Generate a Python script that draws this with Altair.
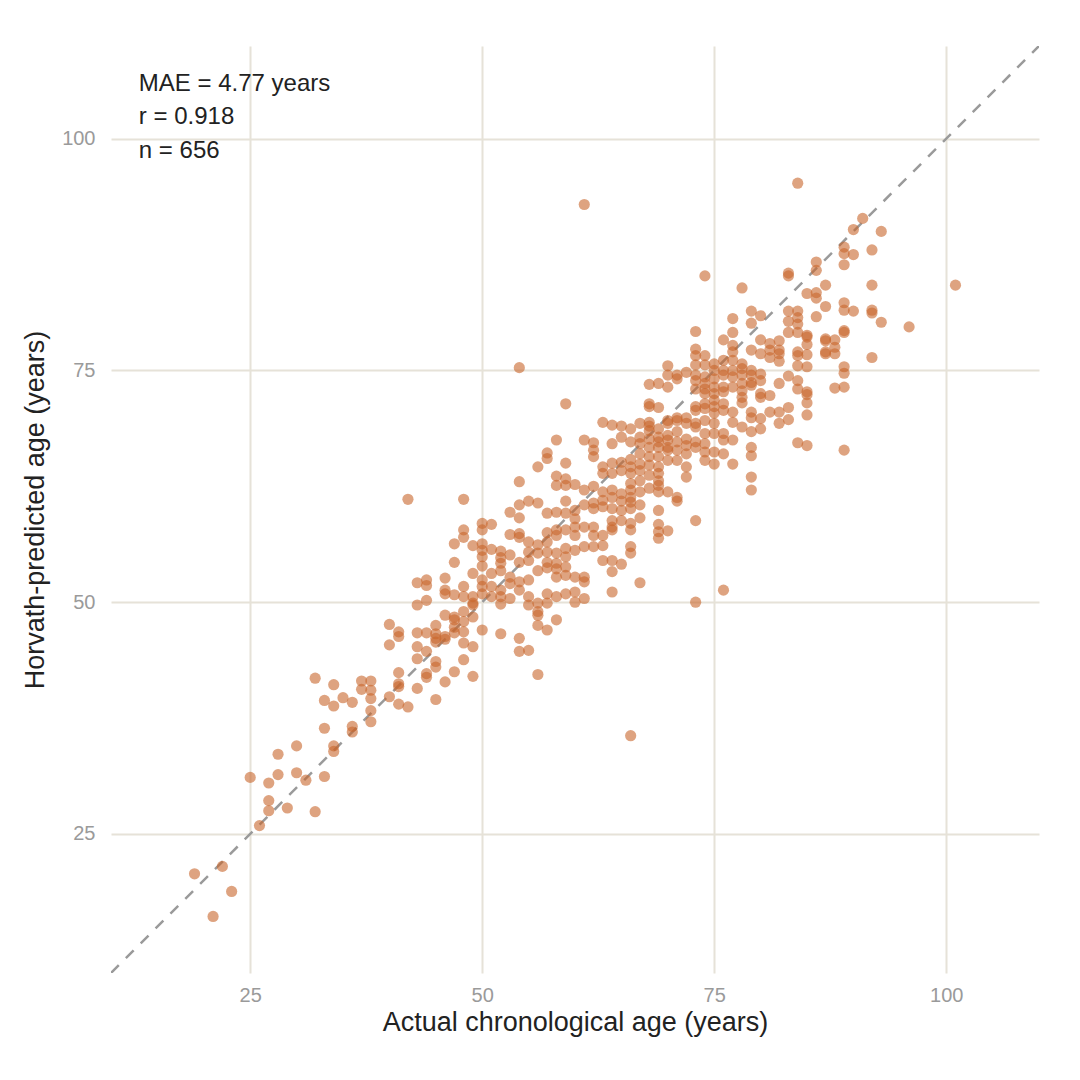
import altair as alt
import pandas as pd

# Actual chronological age (integer years) for each column of points
column_ages = [19, 21, 22, 23, 25, 26, 27, 28, 29, 30, 31, 32, 33, 34, 35, 36, 37, 38,
               40, 41, 42, 43, 44, 45, 46, 47, 48, 49, 50, 51, 52, 53, 54, 55, 56, 57,
               58, 59, 60, 61, 62, 63, 64, 65, 66, 67, 68, 69, 70, 71, 72, 73, 74, 75,
               76, 77, 78, 79, 80, 81, 82, 83, 84, 85, 86, 87, 88, 89, 90, 91, 92, 93,
               96, 101]

# Horvath-predicted ages read for each of those columns
column_predictions = [
    [20.7], [16.1], [21.5], [18.8], [31.1], [25.9], [30.5, 28.6, 27.5], [33.6, 31.4],
    [27.8], [34.5, 31.6], [30.8], [41.8, 27.4], [39.4, 36.4, 31.2],
    [41.1, 38.8, 34.5, 33.9], [39.7], [39.2, 36.6, 36.0], [41.5, 40.6],
    [41.5, 40.5, 39.6, 38.3, 37.1],
    [47.6, 45.4, 39.8],
    [46.8, 46.3, 42.4, 41.2, 40.9, 39.0],
    [61.1, 38.7],
    [52.1, 49.7, 46.7, 45.2, 43.9, 40.7],
    [52.4, 51.8, 50.2, 46.7, 44.7, 42.3, 41.9],
    [47.5, 46.6, 46.1, 45.7, 43.6, 43.0, 39.5],
    [52.6, 51.3, 50.9, 48.6, 46.3, 46.0, 41.4],
    [56.3, 54.3, 50.8, 48.4, 48.1, 47.3, 46.7, 42.5],
    [61.1, 57.8, 57.0, 51.7, 50.6, 49.0, 47.9, 46.8, 45.6, 43.8],
    [56.1, 53.1, 50.6, 49.9, 49.7, 48.4, 45.2, 42.0],
    [58.5, 57.8, 56.3, 55.6, 54.9, 53.9, 52.4, 51.7, 50.9, 47.0],
    [58.4, 55.7, 53.1, 51.7, 50.6],
    [55.5, 54.8, 54.2, 53.4, 51.3, 50.6, 49.8, 46.6],
    [59.7, 57.3, 55.1, 52.7, 52.0, 50.4],
    [75.3, 63.0, 60.5, 59.1, 57.4, 57.0, 54.3, 52.2, 51.3, 46.1, 44.7],
    [60.9, 56.5, 55.4, 54.5, 52.4, 50.6, 49.7, 44.8],
    [64.6, 60.7, 56.2, 55.3, 53.4, 49.9, 49.0, 48.6, 47.5, 42.2],
    [66.1, 65.5, 59.6, 57.5, 56.5, 55.4, 54.3, 53.7, 50.9, 49.9, 47.0],
    [67.5, 63.6, 62.6, 59.7, 57.8, 57.2, 55.3, 54.2, 53.6, 52.7, 50.6, 48.1],
    [71.4, 65.0, 63.3, 62.6, 60.9, 59.6, 57.8, 55.8, 54.9, 53.8, 52.9, 50.9],
    [62.7, 59.9, 59.0, 58.1, 57.2, 55.6, 52.7, 51.1, 50.0],
    [92.9, 67.5, 62.1, 60.5, 58.1, 56.0, 52.7, 52.2, 50.4],
    [67.2, 66.4, 65.7, 62.5, 60.7, 60.1, 58.1, 57.2, 56.0],
    [69.4, 64.6, 63.9, 61.9, 61.0, 60.3, 57.2, 56.1, 54.5],
    [69.1, 67.1, 65.0, 63.9, 62.1, 61.3, 60.1, 58.8, 58.1, 57.8, 54.5, 53.3, 51.1],
    [69.0, 67.8, 65.1, 64.2, 61.7, 60.9, 59.9, 58.8, 54.1],
    [68.7, 67.3, 65.4, 64.6, 63.9, 62.8, 62.1, 61.3, 60.8, 60.1, 58.5, 57.8, 56.0, 55.3, 35.6],
    [69.3, 67.8, 67.1, 66.0, 64.9, 64.2, 63.1, 61.9, 60.5, 59.1, 52.1],
    [73.5, 71.4, 71.1, 69.4, 69.0, 68.5, 67.6, 66.7, 65.7, 64.8, 63.7, 62.3],
    [73.6, 71.0, 68.7, 67.8, 67.3, 66.7, 65.7, 64.6, 63.9, 63.1, 62.6, 61.9, 59.9, 58.4, 57.6, 56.9],
    [75.5, 74.5, 73.2, 69.6, 69.3, 68.0, 67.5, 66.7, 66.4, 65.3, 61.9, 57.7],
    [74.5, 74.1, 69.9, 69.6, 68.4, 67.3, 66.4, 65.3, 61.3, 60.9],
    [74.8, 69.9, 69.3, 67.6, 66.9, 66.0, 64.6, 63.5],
    [79.2, 77.3, 76.6, 75.6, 74.5, 73.9, 73.0, 71.1, 70.7, 69.3, 68.9, 67.3, 66.7, 58.8, 50.0],
    [85.2, 76.6, 75.6, 74.3, 73.6, 73.0, 72.5, 71.4, 70.9, 69.6, 68.2, 67.1, 66.2, 65.3],
    [75.7, 75.0, 74.1, 73.2, 72.5, 71.8, 71.1, 70.4, 69.3, 68.2, 66.2, 64.9],
    [78.3, 76.1, 75.0, 74.5, 73.2, 72.7, 71.4, 70.7, 68.2, 67.5, 66.0, 51.3],
    [80.6, 79.1, 77.7, 77.0, 76.1, 75.0, 74.3, 73.2, 70.5, 69.4, 67.5, 64.9],
    [83.9, 75.7, 75.2, 74.5, 73.6, 72.8, 72.1, 71.5, 68.9],
    [81.4, 80.1, 77.2, 75.0, 74.5, 73.7, 73.4, 70.5, 69.9, 68.4, 66.7, 65.8, 63.5, 62.1],
    [80.9, 78.3, 76.8, 74.6, 73.9, 72.5, 72.1, 69.8, 68.7],
    [77.9, 77.2, 76.4, 72.3, 70.5],
    [78.2, 77.2, 76.8, 76.0, 73.6, 70.5, 69.3],
    [85.5, 85.2, 81.4, 80.3, 79.1, 74.4, 71.0, 69.7],
    [95.2, 81.4, 80.7, 80.0, 79.1, 77.0, 76.6, 75.5, 73.9, 73.0, 67.2],
    [83.3, 78.8, 78.6, 77.8, 76.7, 75.4, 72.7, 72.4, 71.5, 70.2, 66.9],
    [86.7, 85.8, 83.4, 82.8, 80.8],
    [84.2, 81.9, 78.4, 78.2, 77.0, 76.8],
    [78.3, 77.5, 76.8, 73.1],
    [88.3, 87.6, 86.4, 82.3, 81.5, 79.3, 79.1, 75.4, 74.7, 73.2, 66.4],
    [90.2, 87.5, 81.4],
    [91.4],
    [88.0, 84.2, 81.5, 81.2, 76.4],
    [90.0, 80.2],
    [79.7],
    [84.2],
]

# Identity reference line end points
identity_line = [10, 110]

# Stats annotation
stat_lines = ["MAE = 4.77 years", "r = 0.918", "n = 656"]
stat_x = 13.0
stat_y = [105.9, 102.3, 98.7]

axis_ticks = [25, 50, 75, 100]
domain = [10, 110]

actual, predicted = [], []
for age, preds in zip(column_ages, column_predictions):
    for p in preds:
        actual.append(age)
        predicted.append(p)

points_df = pd.DataFrame({"actual": actual, "predicted": predicted})
line_df = pd.DataFrame({"actual": identity_line, "predicted": identity_line})
text_df = pd.DataFrame({"actual": [stat_x] * 3, "predicted": stat_y, "label": stat_lines})

FONT = "Liberation Sans"
GRID = "#e6e2d8"

x_enc = alt.X(
    "actual:Q",
    scale=alt.Scale(domain=domain, nice=False, zero=False),
    axis=alt.Axis(
        values=axis_ticks, title="Actual chronological age (years)",
        grid=True, gridColor=GRID, gridWidth=2, ticks=False, domain=False,
        labelColor="#9a9a9a", labelFontSize=20, labelFont=FONT, labelPadding=12,
        labelFlush=False,
        titleFont=FONT, titleFontSize=27, titleFontWeight="normal",
        titleColor="#222222", titlePadding=4,
    ),
)
y_enc = alt.Y(
    "predicted:Q",
    scale=alt.Scale(domain=domain, nice=False, zero=False),
    axis=alt.Axis(
        values=axis_ticks, title="Horvath-predicted age (years)",
        grid=True, gridColor=GRID, gridWidth=2, ticks=False, domain=False,
        labelColor="#9a9a9a", labelFontSize=20, labelFont=FONT, labelPadding=16,
        labelFlush=False,
        titleFont=FONT, titleFontSize=27, titleFontWeight="normal",
        titleColor="#222222", titlePadding=12,
    ),
)

base_line = alt.Chart(line_df).mark_line(
    color="#9a9a9a", strokeWidth=2.5, strokeDash=[11, 10], clip=True
).encode(x=x_enc, y=y_enc)

points = alt.Chart(points_df).mark_circle(
    size=125, color="#c8652c", opacity=0.6
).encode(x="actual:Q", y="predicted:Q")

texts = alt.Chart(text_df).mark_text(
    align="left", baseline="middle", font=FONT, fontSize=24, color="#222222"
).encode(x="actual:Q", y="predicted:Q", text="label:N")

chart = alt.layer(base_line, points, texts).properties(
    width=928, height=927,
    autosize=alt.AutoSizeParams(type="none"),
    padding={"left": 103, "top": 38, "right": 33, "bottom": 99},
    background="white",
).configure_view(stroke=None, strokeWidth=0)

chart.save("out.html", embed_options={"renderer": "svg", "actions": False})
